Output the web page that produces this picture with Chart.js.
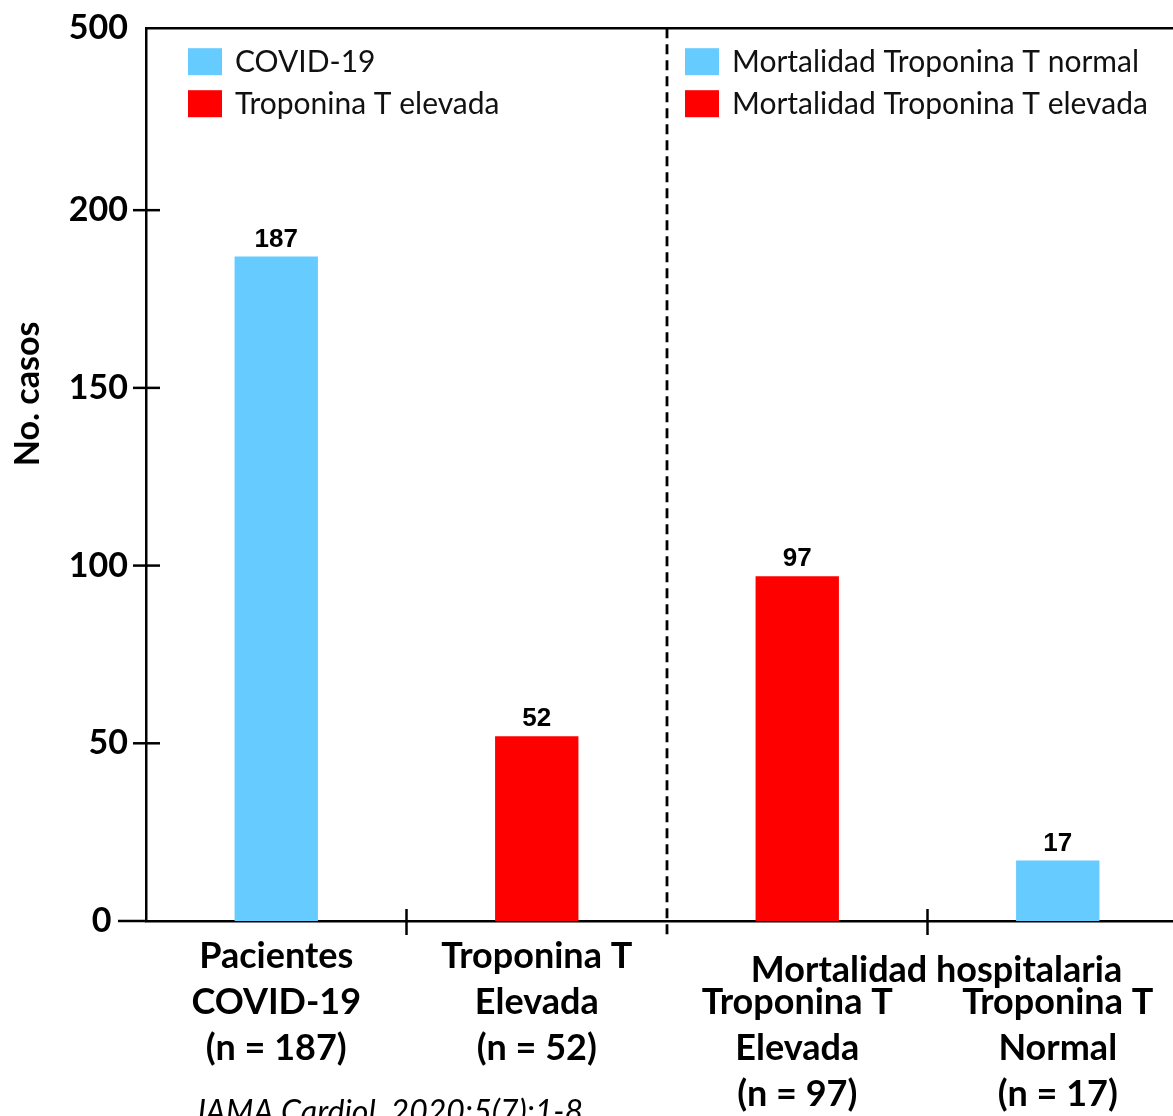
<!DOCTYPE html>
<html>
<head>
<meta charset="utf-8">
<script src="https://cdn.jsdelivr.net/npm/chart.js@4.4.0/dist/chart.umd.min.js"></script>
<style>
    html, body { margin: 0; padding: 0; background: #fff; overflow: hidden; }
    #wrap { width: 1173px; height: 1116px; overflow: hidden; position: relative; }
    #casosChart { position: absolute; left: 0; top: 0; }
</style>
</head>
<body>
<div id="wrap"><canvas id="casosChart" width="1190" height="1116"></canvas></div>
<script>
// Data
const categories = [
    ['Pacientes', 'COVID-19', '(n = 187)'],
    ['Troponina T', 'Elevada', '(n = 52)'],
    ['', 'Troponina T', 'Elevada', '(n = 97)'],
    ['', 'Troponina T', 'Normal', '(n = 17)']
];
const groupTitle = 'Mortalidad hospitalaria';
const casos = [187, 52, 97, 17];
const barColors = ['#66CCFF', '#FF0000', '#FF0000', '#66CCFF'];

// broken axis: the top label "500" sits where 251.2 would be
const yTickValues = [0, 50, 100, 150, 200, 251.2];
const yTickLabels = ['0', '50', '100', '150', '200', '500'];
const yTitle = 'No. casos';

const legendLeft = ['COVID-19', 'Troponina T elevada'];
const legendRight = ['Mortalidad Troponina T normal', 'Mortalidad Troponina T elevada'];
const legendColors = ['#66CCFF', '#FF0000'];

const citation = 'JAMA Cardiol. 2020;5(7):1-8';

const FONT = 'Lato, "Open Sans", sans-serif';

// Extra drawing: frame, ticks, divider, legends, value labels
const decorations = {
    id: 'decorations',
    afterDraw(chart) {
        const ctx = chart.ctx;
        const area = chart.chartArea;
        const x = chart.scales.x;
        const y = chart.scales.y;
        const y0 = y.getPixelForValue(0);
        const boundary = i => (x.getPixelForValue(i) + x.getPixelForValue(i + 1)) / 2;

        ctx.save();
        ctx.strokeStyle = '#000';
        ctx.lineWidth = 2.5;

        // top frame line
        ctx.beginPath();
        ctx.moveTo(area.left, area.top);
        ctx.lineTo(area.right, area.top);
        ctx.stroke();

        // x axis runs a bit past the y axis
        ctx.beginPath();
        ctx.moveTo(area.left - 28, y0);
        ctx.lineTo(area.left, y0);
        ctx.stroke();

        // y tick marks crossing the axis
        yTickValues.slice(1, -1).forEach(v => {
            const py = y.getPixelForValue(v);
            ctx.beginPath();
            ctx.moveTo(area.left - 13, py);
            ctx.lineTo(area.left + 14, py);
            ctx.stroke();
        });

        // x tick marks between groups
        [0, 2].forEach(i => {
            const px = boundary(i);
            ctx.beginPath();
            ctx.moveTo(px, y0 - 12);
            ctx.lineTo(px, y0 + 14);
            ctx.stroke();
        });

        // dashed divider
        const mid = boundary(1);
        ctx.lineWidth = 2.8;
        ctx.setLineDash([10, 6]);
        ctx.beginPath();
        ctx.moveTo(mid, area.top);
        ctx.lineTo(mid, y0 + 14);
        ctx.stroke();
        ctx.setLineDash([]);

        // y axis title
        ctx.save();
        ctx.translate(28, y.getPixelForValue(150) + 6);
        ctx.rotate(-Math.PI / 2);
        ctx.font = 'bold 34px ' + FONT;
        ctx.textAlign = 'center';
        ctx.textBaseline = 'middle';
        ctx.fillStyle = '#000';
        ctx.fillText(yTitle, 0, 0);
        ctx.restore();

        // legends
        ctx.font = '30px ' + FONT;
        ctx.textBaseline = 'middle';
        ctx.textAlign = 'left';
        const drawLegend = (labels, left) => {
            labels.forEach((txt, i) => {
                const cy = area.top + 34 + i * 42;
                ctx.fillStyle = legendColors[i];
                ctx.fillRect(left, cy - 14, 34, 27);
                ctx.fillStyle = '#111';
                ctx.fillText(txt, left + 47, cy);
            });
        };
        drawLegend(legendLeft, area.left + 42);
        drawLegend(legendRight, mid + 18);

        // value labels above bars
        ctx.font = 'bold 26px "Liberation Sans", Arial, sans-serif';
        ctx.textAlign = 'center';
        ctx.textBaseline = 'bottom';
        ctx.fillStyle = '#000';
        chart.getDatasetMeta(0).data.forEach((bar, i) => {
            ctx.fillText(casos[i], bar.x, bar.y - 4);
        });

        // shared title of the last two groups
        ctx.font = 'bold 36px ' + FONT;
        ctx.textBaseline = 'middle';
        ctx.fillText(groupTitle, boundary(2) + 9, 970);

        // source
        ctx.font = 'italic 32px ' + FONT;
        ctx.textBaseline = 'alphabetic';
        ctx.fillText(citation, 388, 1123);

        ctx.restore();
    }
};

const chart = new Chart(document.getElementById('casosChart'), {
    type: 'bar',
    data: {
        labels: categories,
        datasets: [{
            data: casos,
            backgroundColor: barColors,
            borderWidth: 0,
            categoryPercentage: 1,
            barPercentage: 0.32
        }]
    },
    options: {
        responsive: false,
        animation: false,
        layout: {
            padding: { top: 10, right: 2, bottom: 0, left: 0 }
        },
        scales: {
            x: {
                grid: { display: false, drawTicks: false },
                border: { display: true, color: '#000', width: 2.5 },
                ticks: {
                    color: '#000',
                    padding: 12,
                    maxRotation: 0,
                    autoSkip: false,
                    font: { family: FONT, size: 36, weight: 'bold', lineHeight: 1.28 }
                },
                afterFit: s => { s.height = 195; }
            },
            y: {
                min: 0,
                max: 251.2,
                afterBuildTicks: s => { s.ticks = yTickValues.map(v => ({ value: v })); },
                grid: { display: false, drawTicks: false },
                border: { display: true, color: '#000', width: 2.5 },
                ticks: {
                    color: '#000',
                    padding: 18,
                    font: { family: FONT, size: 34, weight: 'bold', lineHeight: 0.6 },
                    // the zero label stands clear of the extended x axis
                    callback: (v, i) => (i === 0 ? yTickLabels[i] + '  ' : yTickLabels[i])
                },
                afterFit: s => { s.width = 146; }
            }
        },
        plugins: {
            legend: { display: false },
            tooltip: { enabled: false }
        }
    },
    plugins: [decorations]
});
</script>
</body>
</html>
